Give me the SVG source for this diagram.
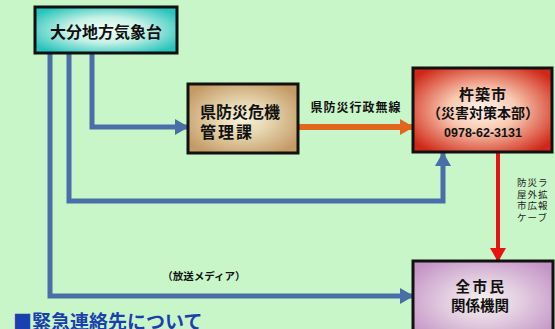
<svg xmlns="http://www.w3.org/2000/svg" width="555" height="329" viewBox="0 0 555 329">
<defs>
<style>
.jp{font-family:"Liberation Sans","Noto Sans CJK JP",sans-serif;font-weight:bold;fill:#111;text-anchor:middle}
.box{stroke:#111;stroke-width:3}
.blue{fill:none;stroke:#4a6fa8;stroke-width:5}
</style>
<radialGradient id="gTeal" cx="50%" cy="50%" r="60%">
<stop offset="0" stop-color="#f0fff8"/><stop offset="0.45" stop-color="#c8f2e6"/><stop offset="1" stop-color="#28c4bc"/>
</radialGradient>
<radialGradient id="gTan" cx="50%" cy="50%" r="60%">
<stop offset="0" stop-color="#f6f2dc"/><stop offset="0.4" stop-color="#e6d6b0"/><stop offset="1" stop-color="#c49a66"/>
</radialGradient>
<radialGradient id="gRed" cx="50%" cy="50%" r="62%">
<stop offset="0" stop-color="#fff6ee"/><stop offset="0.4" stop-color="#f8c8b0"/><stop offset="1" stop-color="#d02818"/>
</radialGradient>
<radialGradient id="gPurple" cx="50%" cy="50%" r="62%">
<stop offset="0" stop-color="#f4f2ee"/><stop offset="0.45" stop-color="#e2cce0"/><stop offset="1" stop-color="#c494c6"/>
</radialGradient>
<marker id="aBlue" markerUnits="userSpaceOnUse" markerWidth="14" markerHeight="16" refX="13" refY="8" orient="auto">
<path d="M0,0 L14,8 L0,16 Z" fill="#4a6fa8"/>
</marker>
<marker id="aOrange" markerUnits="userSpaceOnUse" markerWidth="14" markerHeight="16" refX="13" refY="8" orient="auto">
<path d="M0,0 L14,8 L0,16 Z" fill="#e0681c"/>
</marker>
<marker id="aRed" markerUnits="userSpaceOnUse" markerWidth="14" markerHeight="16" refX="13" refY="8" orient="auto">
<path d="M0,0 L14,8 L0,16 Z" fill="#e81212"/>
</marker>
</defs>
<rect width="555" height="329" fill="#c9f6c9"/>

<g id="connectors">
<polyline class="blue" points="50,53 50,296 413,296" marker-end="url(#aBlue)"/>
<polyline class="blue" points="69,53 69,201 443,201 443,153" marker-end="url(#aBlue)"/>
<polyline class="blue" points="92,53 92,127 188,127" marker-end="url(#aBlue)"/>
<line x1="298" y1="127" x2="413" y2="127" stroke="#e0681c" stroke-width="6" marker-end="url(#aOrange)"/>
<line x1="498" y1="152" x2="498" y2="261" stroke="#e81212" stroke-width="4" marker-end="url(#aRed)"/>
<text class="jp" x="356" y="112" font-size="12" letter-spacing="1">県防災行政無線</text>
<text class="jp" x="204" y="280" font-size="10.5" font-weight="normal">（放送メディア）</text>
<g font-family="Liberation Sans,Noto Sans CJK JP,sans-serif" font-size="9.5" fill="#222" letter-spacing="1">
<text x="517" y="186">防災ラ</text>
<text x="517" y="197.5">屋外拡</text>
<text x="517" y="209">市広報</text>
<text x="517" y="220.5">ケーブ</text>
</g>
</g>

<g id="kishodai">
<rect class="box" x="35" y="7" width="142" height="46" fill="url(#gTeal)"/>
<text class="jp" x="106" y="38" font-size="16">大分地方気象台</text>
</g>

<g id="kenbosai">
<rect class="box" x="188" y="84" width="110" height="69" fill="url(#gTan)"/>
<text class="jp" x="200" y="118" font-size="16" style="text-anchor:start">県防災危機</text>
<text class="jp" x="200" y="138" font-size="16" style="text-anchor:start" letter-spacing="2">管理課</text>
</g>

<g id="kitsuki">
<rect class="box" x="413" y="68" width="139" height="84" fill="url(#gRed)"/>
<text class="jp" x="483" y="100" font-size="15" letter-spacing="1">杵築市</text>
<text class="jp" x="483" y="118" font-size="14">（災害対策本部）</text>
<text class="jp" x="483" y="137" font-size="12.5">0978-62-3131</text>
</g>

<g id="shimin">
<rect class="box" x="413" y="261" width="140" height="80" fill="url(#gPurple)"/>
<text class="jp" x="481" y="292" font-size="14.5" letter-spacing="2.5">全市民</text>
<text class="jp" x="480" y="311" font-size="14.5">関係機関</text>
</g>

<text x="13" y="329" font-family="Noto Sans CJK JP,Liberation Sans,sans-serif" font-size="19" font-weight="bold" fill="#1a40b0">■緊急連絡先について</text>
</svg>
